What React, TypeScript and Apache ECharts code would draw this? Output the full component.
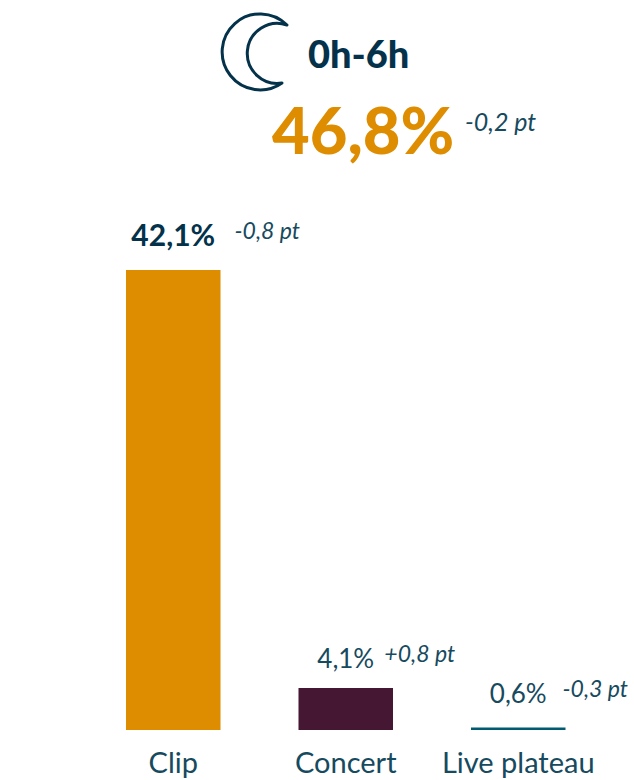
import React, { useEffect, useRef } from "react";
import * as echarts from "echarts";

const categories = ["Clip", "Concert", "Live plateau"];
// Bar heights (in the units of the 42,1% bar)
const barHeights = [42.1, 3.85, 0.23];
const valueLabels = ["42,1%", "4,1%", "0,6%"];
const deltaLabels = ["-0,8 pt", "+0,8 pt", "-0,3 pt"];
const barColors = ["#DE8C00", "#451733", "#005A70"];
const headerTitle = "0h-6h";
const headerValue = "46,8%";
const headerDelta = "-0,2 pt";

const FONT = "Lato";
const NAVY = "#03324A";
const TEXT = "#164A5E";
const valueWeights = ["bold", "normal", "normal"];
const valueSizes = [30, 26, 26];
const valueDistances = [21, 17, 21];
const deltaOffsets = [[94, -7], [74, -1], [77, -6]];

const MOON = "M287 25 A38 38 0 1 0 282 83 A30 30 0 1 1 287 25 Z";
echarts.graphic.registerShape("moon", echarts.graphic.extendPath(MOON as any, {}));

export default function App() {
  const ref = useRef<HTMLDivElement>(null);
  useEffect(() => {
    const chart = echarts.init(ref.current!, null, { renderer: "svg" });
    chart.setOption({
      animation: false,
      textStyle: { fontFamily: FONT },
      grid: { left: 87, top: 270, width: 517.5, height: 460 },
      xAxis: {
        type: "category",
        data: categories,
        axisLine: { show: false },
        axisTick: { show: false },
        axisLabel: { color: TEXT, fontSize: 29, fontFamily: FONT, margin: 17, interval: 0 },
      },
      yAxis: { type: "value", min: 0, max: 42.1, show: false },
      series: [
        {
          type: "bar",
          barWidth: 94.5,
          barGap: "-100%",
          data: barHeights.map((v, i) => ({
            value: v,
            itemStyle: { color: barColors[i] },
            label: {
              show: true,
              position: "top",
              distance: valueDistances[i],
              formatter: valueLabels[i],
              color: i === 0 ? NAVY : TEXT,
              fontFamily: FONT,
              fontWeight: valueWeights[i],
              fontSize: valueSizes[i],
            },
          })),
        },
        {
          type: "bar",
          barWidth: 94.5,
          barGap: "-100%",
          silent: true,
          itemStyle: { color: "transparent" },
          data: barHeights.map((v, i) => ({
            value: v,
            label: {
              show: true,
              position: "top",
              distance: 22,
              offset: deltaOffsets[i],
              formatter: deltaLabels[i],
              color: TEXT,
              fontFamily: FONT,
              fontStyle: "italic",
              fontSize: 23,
            },
          })),
        },
      ],
      graphic: [
        {
          type: "moon",
          x: 0,
          y: 0,
          style: { fill: "none", stroke: NAVY, lineWidth: 3, lineJoin: "round" },
        },
        {
          type: "text",
          x: 308,
          y: 53,
          style: { text: headerTitle, fill: NAVY, font: `900 38px ${FONT}`, textVerticalAlign: "middle" },
        },
        {
          type: "text",
          x: 272,
          y: 129,
          style: { text: headerValue, fill: "#DE8C00", font: `900 65px ${FONT}`, textVerticalAlign: "middle" },
        },
        {
          type: "text",
          x: 465,
          y: 121,
          style: { text: headerDelta, fill: TEXT, font: `italic 25px ${FONT}`, textVerticalAlign: "middle" },
        },
      ],
    });
    return () => chart.dispose();
  }, []);
  return <div ref={ref} style={{ position: "absolute", left: 0, top: 0, width: 634, height: 780 }} />;
}
